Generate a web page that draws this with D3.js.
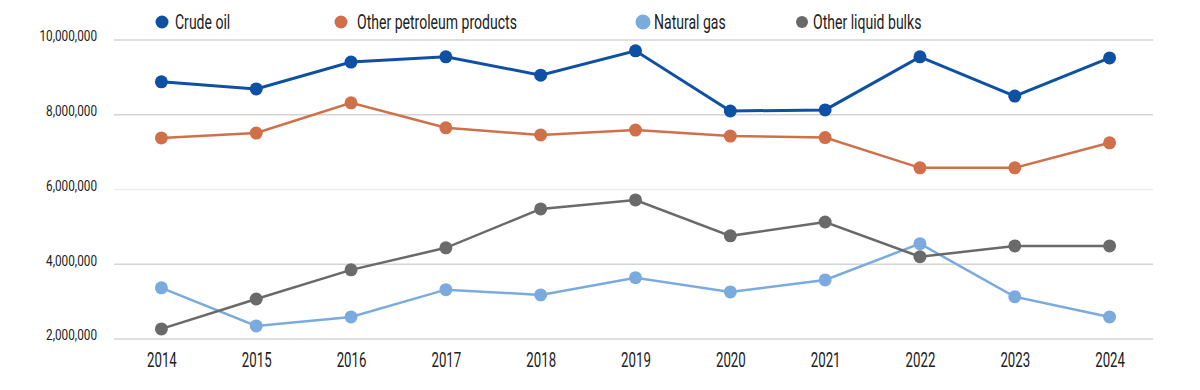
<!DOCTYPE html>
<html><head><meta charset="utf-8">
<script src="https://cdn.jsdelivr.net/npm/d3@7"></script>
<style>
body{margin:0;background:#fff;}
svg text{font-family:Roboto,"Liberation Sans",sans-serif;fill:#222;}
</style></head>
<body><svg id="c" width="1200" height="390"></svg>
<script>
const years = ["2014","2015","2016","2017","2018","2019","2020","2021","2022","2023","2024"];
const crudeOil = [8880000,8690000,9410000,9550000,9060000,9710000,8100000,8130000,9550000,8500000,9520000];
const otherPetroleum = [7380000,7510000,8320000,7650000,7460000,7590000,7430000,7390000,6580000,6580000,7250000];
const naturalGas = [3370000,2350000,2590000,3320000,3180000,3640000,3260000,3580000,4550000,3130000,2590000];
const otherLiquidBulks = [2270000,3070000,3850000,4440000,5480000,5720000,4760000,5130000,4200000,4490000,4490000];
const yTicks = [2000000,4000000,6000000,8000000,10000000];
const seriesNames = ["Crude oil","Other petroleum products","Natural gas","Other liquid bulks"];
const seriesColors = ["#0E50A3","#D0704A","#7BABDE","#6A6A6A"];

const series = [crudeOil, otherPetroleum, naturalGas, otherLiquidBulks];
const svg = d3.select("#c");
const x = d3.scalePoint().domain(years).range([114,1157]).padding(0.5);
const y = d3.scaleLinear().domain([2000000,10000000]).range([339,40]);
const fmt = d3.format(",");

// condense text horizontally around its anchor
function condense(sel, s){
  sel.each(function(){
    const t = d3.select(this);
    const tx = +t.attr("x")||0, ty = +t.attr("y")||0;
    t.attr("transform",`translate(${tx},${ty}) scale(${s},1) translate(${-tx},${-ty})`);
  });
}

// gridlines
svg.append("g").selectAll("line").data(yTicks).join("line")
  .attr("x1",114).attr("x2",1153)
  .attr("y1",d=>y(d)).attr("y2",d=>y(d))
  .attr("stroke",d=>d===6000000?"#ececec":"#d4d4d4").attr("stroke-width",1.5);

// y axis labels
const yAxis = svg.append("g").attr("transform","translate(97,0)")
  .call(d3.axisLeft(y).tickValues(yTicks).tickFormat(fmt).tickSize(0).tickPadding(0));
yAxis.select(".domain").remove();
yAxis.selectAll("text").attr("font-size",15.5).style("fill","#222")
  .attr("x",0).attr("transform",null);
yAxis.selectAll(".tick text").attr("y",-4).attr("dy","0.32em");
condense(yAxis.selectAll("text"),0.76);

// x axis labels
const xAxis = svg.append("g").attr("transform","translate(0,353)")
  .call(d3.axisBottom(x).tickSize(0).tickPadding(0));
xAxis.select(".domain").remove();
xAxis.selectAll("text").attr("font-size",19.5).attr("y",0).attr("dy","0.71em").style("fill","#222");
condense(xAxis.selectAll("text"),0.68);

// lines
const line = d3.line().x((d,i)=>x(years[i])).y(d=>y(d));
series.forEach((s,k)=>{
  const g = svg.append("g");
  g.append("path").datum(s).attr("d",line).attr("fill","none")
    .attr("stroke",seriesColors[k]).attr("stroke-width",k===0?3:2.5);
  g.selectAll("circle").data(s).join("circle")
    .attr("cx",(d,i)=>x(years[i])).attr("cy",d=>y(d)).attr("r",6.5)
    .attr("fill",seriesColors[k]);
});

// legend
const legX = [162,341,643,802];
const legR = [6.5,6.5,7.5,6];
const legGap = [13,16,11,11];
const leg = svg.append("g");
seriesNames.forEach((n,k)=>{
  leg.append("circle").attr("cx",legX[k]).attr("cy",22).attr("r",legR[k]).attr("fill",seriesColors[k]);
  const t = leg.append("text").attr("x",legX[k]+legGap[k]).attr("y",29)
    .attr("font-size",19.5).text(n);
  condense(t,0.72);
});
</script></body></html>
